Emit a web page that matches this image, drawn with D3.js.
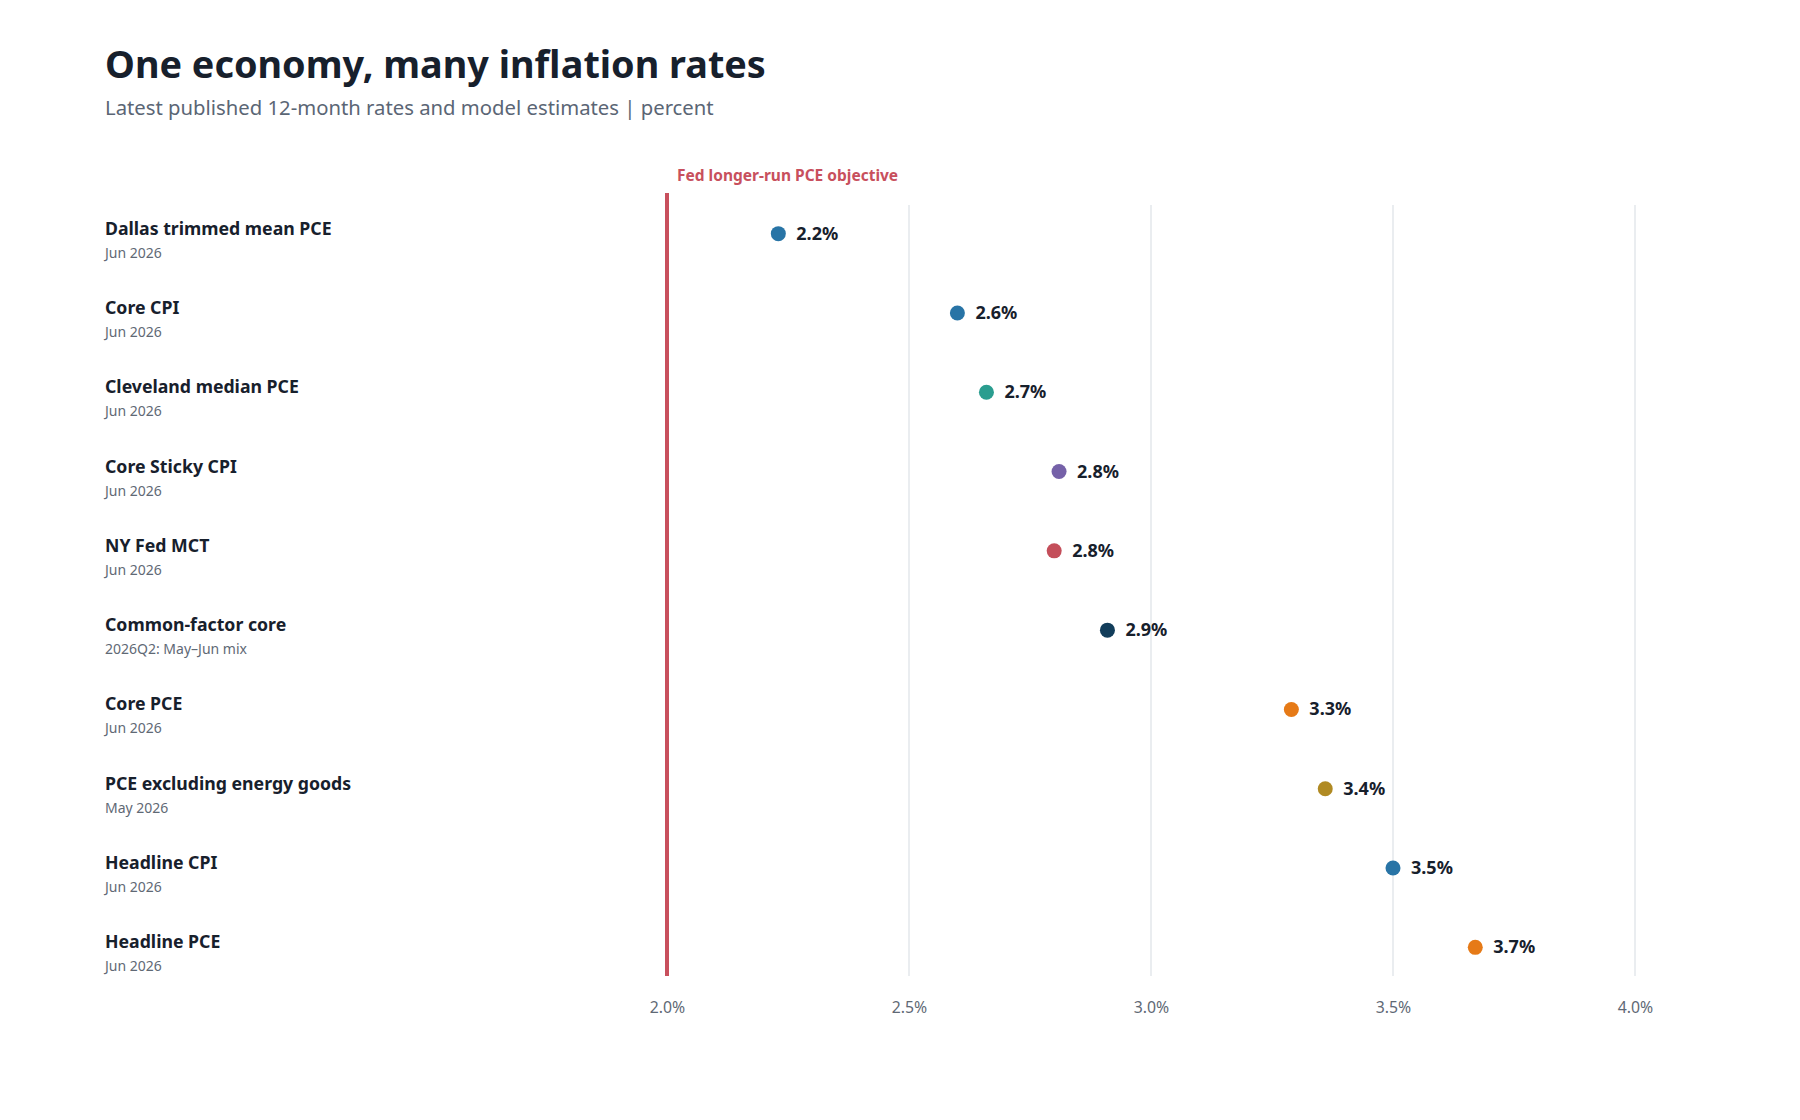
<!DOCTYPE html>
<html lang="en">
<head>
  <meta charset="UTF-8">
  <title>One economy, many inflation rates</title>
  <script src="https://d3js.org/d3.v7.min.js"></script>
  <style>
    body {
      margin: 0;
      background: #fff;
      font-family: "Segoe UI", "Noto Sans", sans-serif;
    }
    svg {
      display: block;
    }
  </style>
</head>
<body>
  <svg></svg>
  <script>
    const measures = [
      "Dallas trimmed mean PCE", "Core CPI", "Cleveland median PCE", "Core Sticky CPI",
      "NY Fed MCT", "Common-factor core", "Core PCE", "PCE excluding energy goods",
      "Headline CPI", "Headline PCE"
    ];
    const periods = [
      "Jun 2026", "Jun 2026", "Jun 2026", "Jun 2026", "Jun 2026",
      "2026Q2: May\u2013Jun mix", "Jun 2026", "May 2026", "Jun 2026", "Jun 2026"
    ];
    const rates = [2.23, 2.60, 2.66, 2.81, 2.80, 2.91, 3.29, 3.36, 3.50, 3.67];
    const dotColors = [
      "#2874a6", "#2874a6", "#2a9d8f", "#7561a8", "#c44e5a",
      "#123d5a", "#e67a17", "#b08a23", "#2874a6", "#e67a17"
    ];
    const xTicks = [2.0, 2.5, 3.0, 3.5, 4.0];
    const target = 2.0;

    const width = 1800, height = 1120;
    const left = 105;

    const svg = d3.select("svg")
      .attr("width", width)
      .attr("height", height);

    const x = d3.scaleLinear().domain([2, 4]).range([667, 1635]);
    const y = d3.scaleBand().domain(measures).range([194, 987]);
    const cy = d => y(d) + y.bandwidth() / 2;

    // title block
    svg.append("text")
      .attr("x", left).attr("y", 78)
      .attr("fill", "#17202c")
      .style("font-size", "37.8px").style("font-weight", 700)
      .text("One economy, many inflation rates");

    svg.append("text")
      .attr("x", left).attr("y", 115)
      .attr("fill", "#5b6675")
      .style("font-size", "20.3px")
      .text("Latest published 12-month rates and model estimates | percent");

    // grid
    svg.append("g")
      .selectAll("line")
      .data(xTicks.filter(t => t !== target))
      .join("line")
      .attr("x1", d => x(d)).attr("x2", d => x(d))
      .attr("y1", 205).attr("y2", 976)
      .attr("stroke", "#e3e7eb")
      .attr("stroke-width", 1.5);

    // x axis labels
    const axis = svg.append("g")
      .attr("transform", "translate(0,1007)")
      .call(d3.axisBottom(x).tickValues(xTicks).tickFormat(d => d.toFixed(1) + "%").tickSize(0));
    axis.select(".domain").remove();
    axis.selectAll("text")
      .attr("dy", "0.35em").attr("y", 0)
      .attr("fill", "#5f6975")
      .style("font-family", "\"Segoe UI\", \"Noto Sans\", sans-serif")
      .style("font-size", "15.8px");

    // target line
    svg.append("line")
      .attr("x1", x(target)).attr("x2", x(target))
      .attr("y1", 193).attr("y2", 976)
      .attr("stroke", "#c8505d")
      .attr("stroke-width", 4);

    svg.append("text")
      .attr("x", x(target) + 10).attr("y", 181)
      .attr("fill", "#c8505d")
      .style("font-size", "15.5px").style("font-weight", 700)
      .text("Fed longer-run PCE objective");

    // row labels
    const rows = svg.append("g")
      .selectAll("g")
      .data(measures)
      .join("g");

    rows.append("text")
      .attr("x", left).attr("y", d => cy(d) + 1)
      .attr("fill", "#17202c")
      .style("font-size", "17.7px").style("font-weight", 700)
      .text(d => d);

    rows.append("text")
      .attr("x", left).attr("y", d => cy(d) + 24)
      .attr("fill", "#5f6975")
      .style("font-size", "14px")
      .text((d, i) => periods[i]);

    // dots + values
    rows.append("circle")
      .attr("cx", (d, i) => x(rates[i]))
      .attr("cy", d => cy(d))
      .attr("r", 7.5)
      .attr("fill", (d, i) => dotColors[i]);

    rows.append("text")
      .attr("x", (d, i) => x(rates[i]) + 18)
      .attr("y", d => cy(d) + 6)
      .attr("fill", "#17202c")
      .style("font-size", "18px").style("font-weight", 700)
      .text((d, i) => rates[i].toFixed(1) + "%");
  </script>
</body>
</html>
